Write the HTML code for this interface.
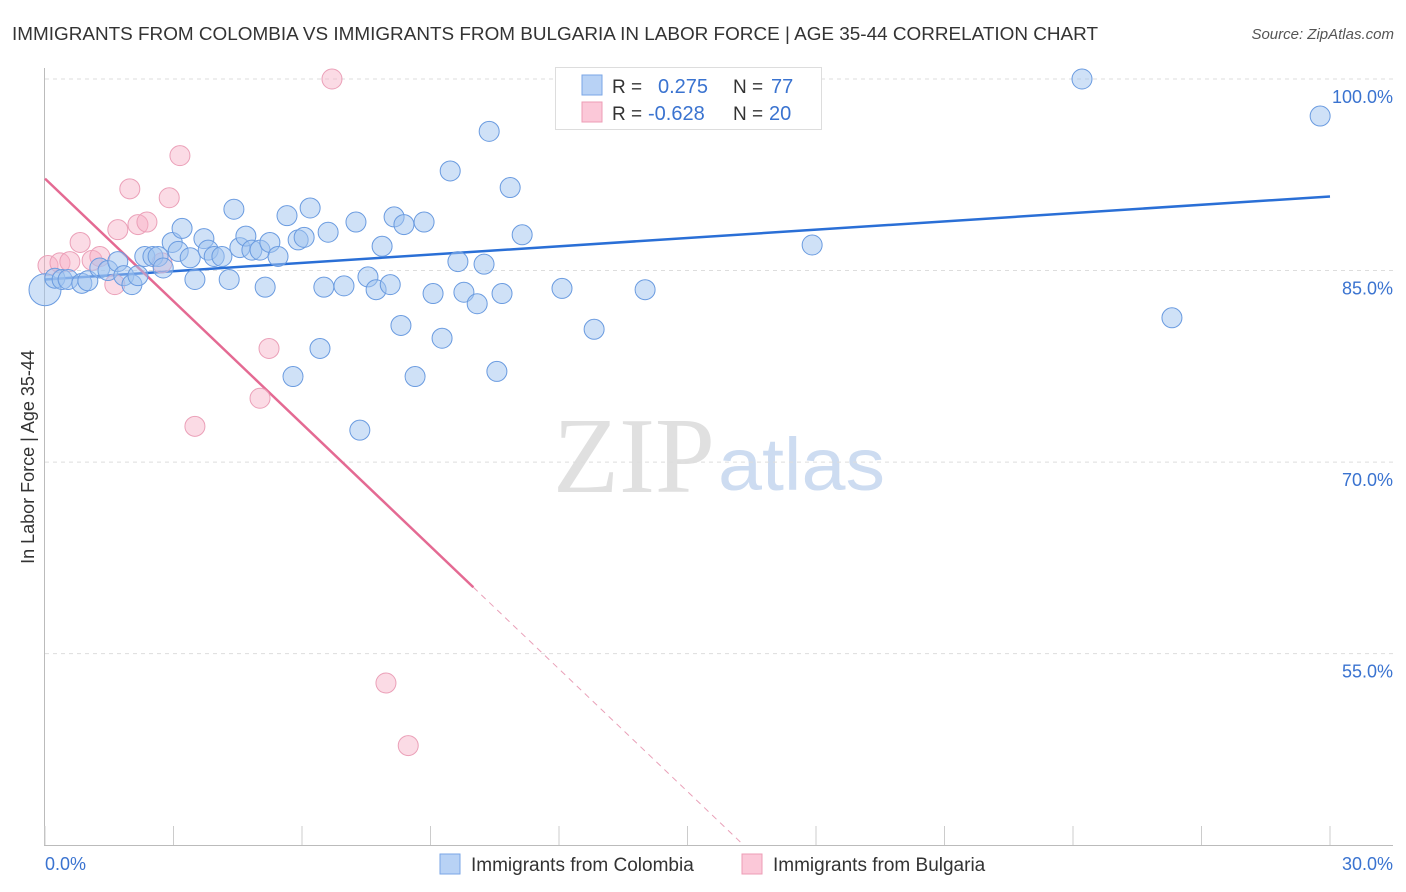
<!DOCTYPE html>
<html><head><meta charset="utf-8"><style>
html,body{margin:0;padding:0;background:#fff;width:1406px;height:892px;overflow:hidden;font-family:"Liberation Sans",sans-serif}
</style></head><body>
<svg id="chart" width="1406" height="892" xmlns="http://www.w3.org/2000/svg">
<text x="12" y="40" font-size="18" fill="#333" textLength="1086" lengthAdjust="spacingAndGlyphs">IMMIGRANTS FROM COLOMBIA VS IMMIGRANTS FROM BULGARIA IN LABOR FORCE | AGE 35-44 CORRELATION CHART</text>
<text x="1394" y="39" font-size="15" fill="#555" font-style="italic" text-anchor="end">Source: ZipAtlas.com</text>
<g>
<text x="553" y="492" font-size="108" font-family="Liberation Serif,serif" fill="#e0e0e0" textLength="162" lengthAdjust="spacingAndGlyphs">ZIP</text>
<text x="718" y="490" font-size="74" fill="#cddcf1" textLength="167" lengthAdjust="spacingAndGlyphs">atlas</text>
</g>
<g id="grid"></g>
<g id="axes"></g>
<g id="lines"></g>
<g id="points"></g>
<text transform="translate(34,457) rotate(-90)" font-size="18" fill="#333" text-anchor="middle">In Labor Force | Age 35-44</text>
<g>
<rect x="555.5" y="67.5" width="266" height="62" fill="#fff" stroke="#ddd"/>
<rect x="582" y="75" width="20" height="20" fill="#b8d2f5" stroke="#7aa6e6"/>
<rect x="582" y="102" width="20" height="20" fill="#fbc8d8" stroke="#ee9cb6"/>
<text x="612" y="93" font-size="19" fill="#333">R =</text><text x="658" y="93" font-size="20" fill="#3a73d0">0.275</text>
<text x="733" y="93" font-size="19" fill="#333">N =</text><text x="771" y="93" font-size="20" fill="#3a73d0">77</text>
<text x="612" y="120" font-size="19" fill="#333">R =</text><text x="648" y="120" font-size="20" fill="#3a73d0">-0.628</text>
<text x="733" y="120" font-size="19" fill="#333">N =</text><text x="769" y="120" font-size="20" fill="#3a73d0">20</text>
</g>
<g>
<rect x="440" y="854" width="20" height="20" fill="#b8d2f5" stroke="#7aa6e6"/>
<text x="471" y="871" font-size="19" fill="#333">Immigrants from Colombia</text>
<rect x="742" y="854" width="20" height="20" fill="#fbc8d8" stroke="#ee9cb6"/>
<text x="773" y="871" font-size="19" fill="#333">Immigrants from Bulgaria</text>
</g>
</svg>
<script>
const yTicks=[55,70,85,100];
const xTickLabels=["0.0%","30.0%"];
const blueX=[0.0,0.23,0.40,0.54,0.86,1.0,1.28,1.47,1.70,1.84,2.03,2.17,2.33,2.52,2.64,2.76,2.97,3.11,3.20,3.39,3.50,3.71,3.81,3.95,4.13,4.30,4.41,4.55,4.69,4.83,5.02,5.14,5.25,5.44,5.65,5.79,5.91,6.05,6.19,6.42,6.51,6.61,6.98,7.26,7.35,7.54,7.73,7.87,8.06,8.15,8.31,8.38,8.64,8.85,9.06,9.27,9.46,9.64,9.78,10.09,10.25,10.37,10.55,10.67,10.86,11.14,12.07,12.82,14.01,17.91,24.21,26.31,29.77];
const blueY=[83.5,84.4,84.3,84.3,84.0,84.2,85.2,85.0,85.7,84.6,83.9,84.6,86.1,86.1,86.1,85.2,87.2,86.5,88.3,86.0,84.3,87.5,86.6,86.1,86.1,84.3,89.8,86.8,87.7,86.6,86.6,83.7,87.2,86.1,89.3,76.7,87.4,87.6,89.9,78.9,83.7,88.0,83.8,88.8,72.5,84.5,83.5,86.9,83.9,89.2,80.7,88.6,76.7,88.8,83.2,79.7,92.8,85.7,83.3,82.4,85.5,95.9,77.1,83.2,91.5,87.8,83.6,80.4,83.5,87.0,100,81.3,97.1];
const pinkX=[0.07,0.35,0.58,0.82,1.10,1.28,1.63,1.70,1.98,2.17,2.38,2.73,2.90,3.15,3.50,5.02,5.23,6.70,7.96,8.48];
const pinkY=[85.4,85.6,85.7,87.2,85.8,86.1,83.9,88.2,91.4,88.6,88.8,85.6,90.7,94.0,72.8,75.0,78.9,100,52.7,47.8];
const blueTrend=[84.3,90.8]; // y at x=0 and x=30
const pinkTrend=[92.2,-3.2]; // intercept, slope
const pinkSolidEnd=10;
const NS="http://www.w3.org/2000/svg";
const X=v=>45+v*(1285/30);
const Y=v=>79+(100-v)*12.77;
function mk(tag,attrs,parent){const e=document.createElementNS(NS,tag);for(const k in attrs)e.setAttribute(k,attrs[k]);parent.appendChild(e);return e;}
const grid=document.getElementById('grid'),axes=document.getElementById('axes'),lines=document.getElementById('lines'),pts=document.getElementById('points');
yTicks.forEach(t=>{
 const l=mk('line',{x1:45,x2:1393,y1:Y(t),y2:Y(t),stroke:'#ddd','stroke-dasharray':'4,4'},grid);
 
 
 const tx=mk('text',{x:1393,y:Y(t)+24,'font-size':18,fill:'#3a73d0','text-anchor':'end'},grid);
 tx.textContent=t.toFixed(1)+'%';
 
 
});
mk('line',{x1:44.5,x2:44.5,y1:68,y2:845,stroke:'#bbb'},axes);
const xa=mk('line',{x1:44,x2:1393,y1:845.5,y2:845.5,stroke:'#bbb'},axes);


for(let i=0;i<=10;i++){mk('line',{x1:X(i*3),x2:X(i*3),y1:826,y2:845,stroke:'#ccc'},axes);}
const xl0=mk('text',{x:45,y:870,'font-size':18,fill:'#3a73d0'},axes);xl0.textContent=xTickLabels[0];


const xl1=mk('text',{x:1393,y:870,'font-size':18,fill:'#3a73d0','text-anchor':'end'},axes);xl1.textContent=xTickLabels[1];


pinkX.forEach((x,i)=>{
 const c=mk('circle',{cx:X(x),cy:Y(pinkY[i]),r:10,fill:'rgba(246,176,198,0.45)',stroke:'#eba0b8','stroke-width':1},pts);
 
 
});
blueX.forEach((x,i)=>{
 const c=mk('circle',{cx:X(x),cy:Y(blueY[i]),r:i===0?16:10,fill:'rgba(160,196,240,0.5)',stroke:'#6a9be0','stroke-width':1},pts);
 
 
});
const bl=mk('line',{x1:X(0),y1:Y(blueTrend[0]),x2:X(30),y2:Y(blueTrend[1]),stroke:'#2a6fd6','stroke-width':2.5},lines);


const pf=x=>pinkTrend[0]+pinkTrend[1]*x;
const pl=mk('line',{x1:X(0),y1:Y(pf(0)),x2:X(pinkSolidEnd),y2:Y(pf(pinkSolidEnd)),stroke:'#e46a93','stroke-width':2.5},lines);


const xEnd=(40-pinkTrend[0])/pinkTrend[1];
const pd=mk('line',{x1:X(pinkSolidEnd),y1:Y(pf(pinkSolidEnd)),x2:X(xEnd),y2:Y(40),stroke:'#e9a0b8','stroke-width':1,'stroke-dasharray':'6,5'},lines);


</script>
</body></html>
